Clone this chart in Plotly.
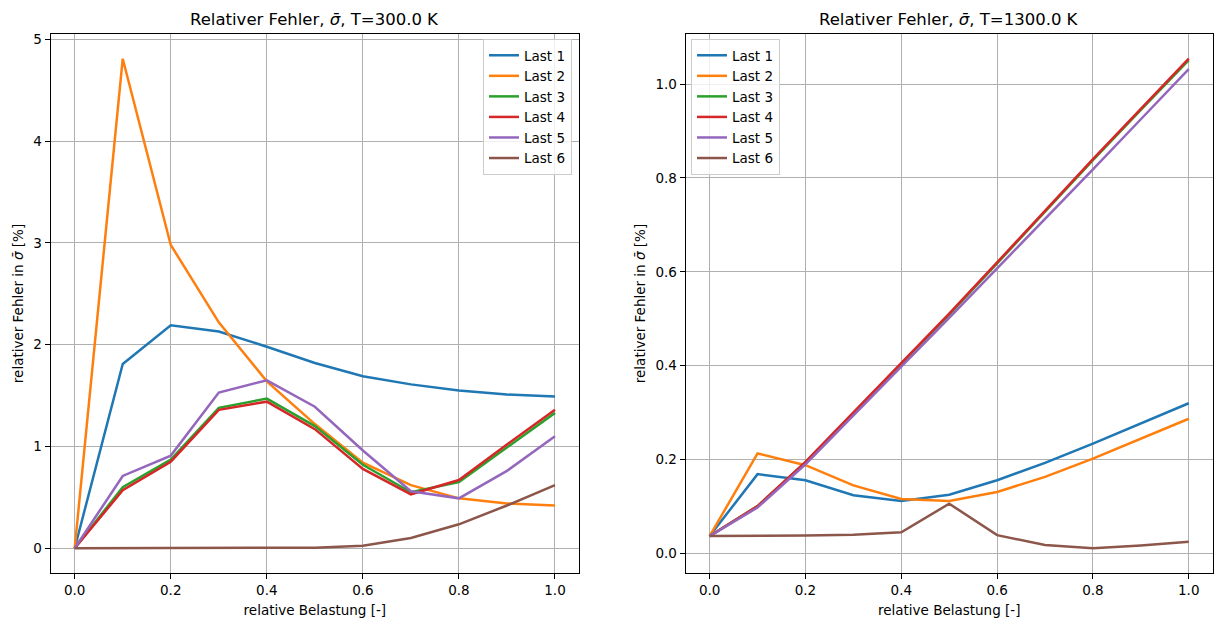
import plotly.graph_objects as go

# ---- data ----
x_vals = [0.0, 0.1, 0.2, 0.3, 0.4, 0.5, 0.6, 0.7, 0.8, 0.9, 1.0]
series_names = ["Last 1", "Last 2", "Last 3", "Last 4", "Last 5", "Last 6"]

last1_300 = [0, 1.81, 2.19, 2.13, 1.98, 1.82, 1.69, 1.61, 1.55, 1.51, 1.49]
last2_300 = [0, 4.81, 2.98, 2.22, 1.64, 1.22, 0.84, 0.62, 0.49, 0.44, 0.42]
last3_300 = [0, 0.60, 0.87, 1.38, 1.47, 1.20, 0.82, 0.55, 0.65, 0.99, 1.33]
last4_300 = [0, 0.57, 0.85, 1.36, 1.44, 1.17, 0.78, 0.53, 0.67, 1.02, 1.36]
last5_300 = [0, 0.71, 0.91, 1.53, 1.65, 1.39, 0.96, 0.56, 0.49, 0.76, 1.10]
last6_300 = [0, 0, 0, 0, 0, 0.005, 0.025, 0.10, 0.235, 0.42, 0.62]

last1_1300 = [0.037, 0.169, 0.156, 0.124, 0.112, 0.125, 0.156, 0.193, 0.234, 0.277, 0.320]
last2_1300 = [0.037, 0.213, 0.188, 0.145, 0.116, 0.112, 0.131, 0.163, 0.202, 0.245, 0.287]
last3_1300 = [0.037, 0.101, 0.194, 0.299, 0.404, 0.509, 0.618, 0.728, 0.838, 0.945, 1.051]
last4_1300 = [0.037, 0.101, 0.195, 0.300, 0.405, 0.511, 0.620, 0.730, 0.840, 0.947, 1.054]
last5_1300 = [0.037, 0.098, 0.190, 0.295, 0.398, 0.502, 0.607, 0.713, 0.818, 0.925, 1.032]
last6_1300 = [0.037, 0.037, 0.038, 0.040, 0.045, 0.106, 0.039, 0.018, 0.011, 0.017, 0.025]

series_300 = [last1_300, last2_300, last3_300, last4_300, last5_300, last6_300]
series_1300 = [last1_1300, last2_1300, last3_1300, last4_1300, last5_1300, last6_1300]

left_yticks = [0, 1, 2, 3, 4, 5]
right_yticks = [0.0, 0.2, 0.4, 0.6, 0.8, 1.0]
x_ticks = [0.0, 0.2, 0.4, 0.6, 0.8, 1.0]

colors = ["#1f77b4", "#ff7f0e", "#2ca02c", "#d62728", "#9467bd", "#8c564b"]

OFF = 8  # page body margin
W, H = 1222 - OFF, 626 - OFF
FONT = "DejaVu Sans"

fig = go.Figure()
for name, ys, c in zip(series_names, series_300, colors):
    fig.add_trace(go.Scatter(x=x_vals, y=ys, mode="lines", name=name,
                             line=dict(color=c, width=2.5),
                             xaxis="x", yaxis="y", legend="legend"))
for name, ys, c in zip(series_names, series_1300, colors):
    fig.add_trace(go.Scatter(x=x_vals, y=ys, mode="lines", name=name,
                             line=dict(color=c, width=2.5),
                             xaxis="x2", yaxis="y2", legend="legend2"))

def px_x(p):
    return (p - OFF) / W

def px_y(p):
    return 1 - (p - OFF) / H

ax_common = dict(showline=True, mirror=True, linecolor="black", linewidth=1.1,
                 ticks="outside", ticklen=5, tickwidth=1.1, tickcolor="black",
                 showgrid=True, gridcolor="#b0b0b0", gridwidth=1.1,
                 zeroline=False, tickfont=dict(family=FONT, size=13.5, color="black"),
                 automargin=False)

ydom = [px_y(572.7), px_y(34.3)]

fig.update_layout(
    width=W, height=H,
    margin=dict(l=0, r=0, t=0, b=0),
    paper_bgcolor="white", plot_bgcolor="white",
    font=dict(family=FONT, size=13.5, color="black"),
    xaxis=dict(domain=[px_x(50.7), px_x(579)], range=[-0.05, 1.05],
               tickvals=x_ticks, tickformat=".1f", anchor="y",
               title=dict(text="relative Belastung [-]", standoff=8,
                          font=dict(family=FONT, size=13.5)), **ax_common),
    yaxis=dict(domain=ydom, range=[-0.2405, 5.05], tickvals=left_yticks,
               tickformat="d", anchor="x",
               title=dict(text="relativer Fehler in <i>σ̄</i> [%]", standoff=6,
                          font=dict(family=FONT, size=13.5)), **ax_common),
    xaxis2=dict(domain=[px_x(685.7), px_x(1212.7)], range=[-0.05, 1.05],
                tickvals=x_ticks, tickformat=".1f", anchor="y2",
                title=dict(text="relative Belastung [-]", standoff=8,
                           font=dict(family=FONT, size=13.5)), **ax_common),
    yaxis2=dict(domain=ydom, range=[-0.041, 1.106], tickvals=right_yticks,
                tickformat=".1f", anchor="x2",
                title=dict(text="relativer Fehler in <i>σ̄</i> [%]", standoff=6,
                           font=dict(family=FONT, size=13.5)), **ax_common),
    legend=dict(x=px_x(572), y=px_y(39), xanchor="right", yanchor="top",
                bgcolor="rgba(255,255,255,0.8)", bordercolor="#cccccc", borderwidth=1,
                font=dict(family=FONT, size=13.5), itemwidth=30,
                tracegroupgap=0),
    legend2=dict(x=px_x(691), y=px_y(39), xanchor="left", yanchor="top",
                 bgcolor="rgba(255,255,255,0.8)", bordercolor="#cccccc", borderwidth=1,
                 font=dict(family=FONT, size=13.5), itemwidth=30,
                 tracegroupgap=0),
    annotations=[
        dict(text="Relativer Fehler, <i>σ̄</i>, T=300.0 K", x=(px_x(50.7) + px_x(579)) / 2,
             y=px_y(20), xref="paper", yref="paper", showarrow=False,
             xanchor="center", yanchor="middle", font=dict(family=FONT, size=16.5)),
        dict(text="Relativer Fehler, <i>σ̄</i>, T=1300.0 K", x=(px_x(685.7) + px_x(1212.7)) / 2,
             y=px_y(20), xref="paper", yref="paper", showarrow=False,
             xanchor="center", yanchor="middle", font=dict(family=FONT, size=16.5)),
    ],
)

fig.write_html("out.html")
